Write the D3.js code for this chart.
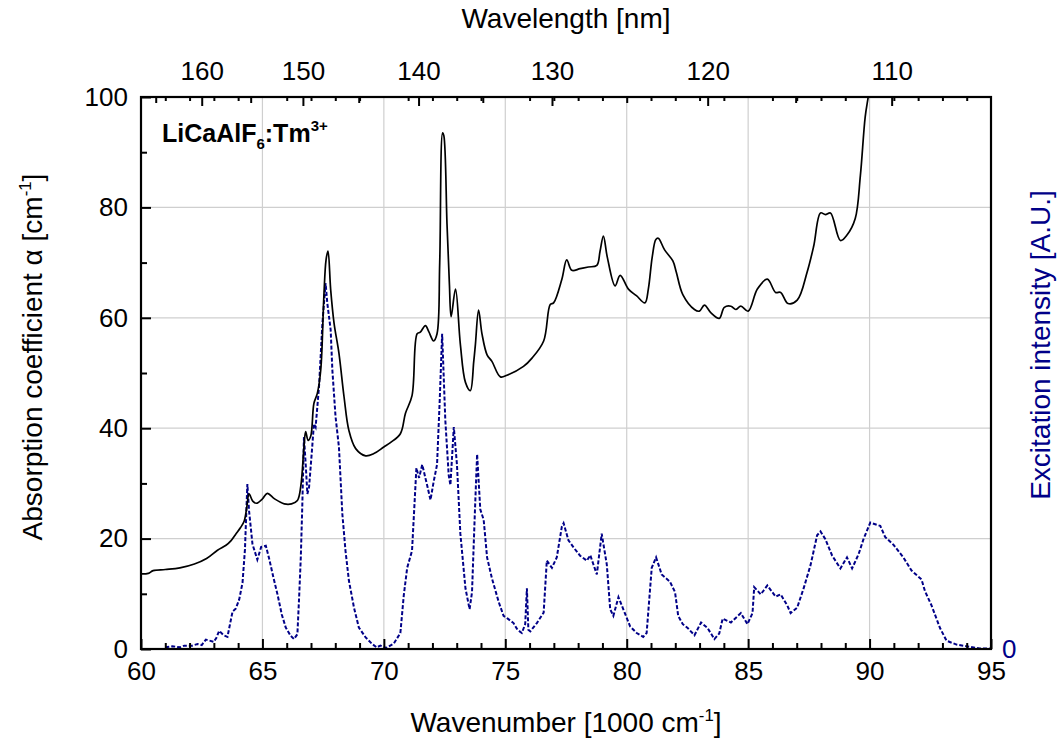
<!DOCTYPE html>
<html>
<head>
<meta charset="utf-8">
<script src="https://cdn.jsdelivr.net/npm/d3@7"></script>
<style>
  body { margin: 0; background: #fff; }
  .grafico-d3-svg text { font-family: "Liberation Sans", Arial, sans-serif; }
</style>
</head>
<body>
<svg class="grafico-d3-svg"></svg>
<script>
// dados: número de onda [1000 cm-1] e valores
const absorcao_wn = [60.0, 60.3, 60.5, 61.0, 61.6, 62.2, 62.7, 63.15, 63.5, 63.7, 63.9, 64.1, 64.25, 64.35, 64.45, 64.6, 64.75, 65.0, 65.2, 65.5, 65.9, 66.2, 66.44, 66.58, 66.71, 66.78, 66.88, 66.99, 67.12, 67.26, 67.4, 67.53, 67.62, 67.7, 67.81, 67.95, 68.15, 68.36, 68.56, 68.84, 69.25, 69.59, 70.0, 70.27, 70.68, 70.89, 71.16, 71.37, 71.5, 71.71, 71.85, 72.05, 72.19, 72.3, 72.42, 72.47, 72.6, 72.7, 72.77, 72.95, 73.15, 73.36, 73.56, 73.7, 73.77, 73.9, 74.04, 74.25, 74.45, 74.8, 75.07, 75.75, 76.1, 76.58, 76.85, 76.99, 77.33, 77.53, 77.74, 78.08, 78.42, 78.77, 78.9, 79.04, 79.2, 79.52, 79.73, 80.07, 80.4, 80.75, 80.89, 81.05, 81.2, 81.3, 81.56, 81.9, 82.04, 82.31, 82.79, 82.99, 83.2, 83.47, 83.81, 84.02, 84.29, 84.49, 84.7, 85.0, 85.38, 85.79, 86.13, 86.34, 86.64, 87.02, 87.43, 87.7, 87.98, 88.18, 88.39, 88.8, 89.07, 89.41, 89.62, 89.82, 89.96, 90.05];
const absorcao_val = [13.6, 13.7, 14.2, 14.4, 14.7, 15.4, 16.4, 17.9, 18.8, 19.6, 20.8, 22.0, 23.2, 25.5, 28.1, 26.8, 26.4, 27.2, 28.2, 27.2, 26.3, 26.3, 26.9, 29.5, 36.6, 39.4, 37.8, 38.6, 44.5, 46.3, 50.5, 63.9, 70.5, 72.1, 65.1, 59.0, 53.6, 45.7, 39.6, 36.3, 35.0, 35.4, 36.6, 37.4, 39.0, 42.7, 45.9, 57.1, 57.4, 58.6, 57.5, 55.8, 57.1, 70.0, 93.5, 93.0, 77.0, 66.0, 60.2, 65.2, 55.2, 48.3, 46.8, 52.0, 55.2, 61.4, 57.1, 53.3, 52.1, 49.3, 49.6, 51.2, 52.7, 55.8, 62.4, 62.7, 67.0, 70.5, 68.6, 68.9, 69.2, 69.5, 72.0, 74.8, 71.0, 65.8, 67.7, 65.2, 64.0, 62.7, 65.2, 71.0, 74.2, 74.4, 72.3, 70.3, 68.3, 64.2, 61.5, 61.2, 62.3, 60.9, 59.9, 61.9, 62.1, 61.5, 62.1, 61.2, 65.2, 67.0, 64.6, 64.6, 62.6, 63.2, 68.3, 73.0, 79.0, 78.7, 79.0, 74.0, 75.0, 78.0, 85.7, 96.4, 100.5, 104];

const excitacao_wn = [61.0, 61.3, 61.6, 61.78, 62.1, 62.33, 62.5, 62.67, 63.0, 63.1, 63.22, 63.4, 63.56, 63.77, 63.9, 64.04, 64.18, 64.28, 64.38, 64.45, 64.59, 64.79, 64.95, 65.14, 65.27, 65.45, 65.62, 65.8, 65.96, 66.16, 66.3, 66.44, 66.51, 66.58, 66.64, 66.71, 66.78, 66.85, 66.92, 67.05, 67.12, 67.19, 67.33, 67.47, 67.6, 67.67, 67.81, 67.88, 68.01, 68.15, 68.29, 68.42, 68.56, 68.77, 68.97, 69.25, 69.52, 69.7, 69.86, 70.1, 70.41, 70.68, 70.82, 70.96, 71.16, 71.34, 71.45, 71.58, 71.78, 71.92, 72.05, 72.19, 72.3, 72.4, 72.53, 72.67, 72.74, 72.88, 73.01, 73.15, 73.36, 73.53, 73.63, 73.75, 73.84, 73.97, 74.11, 74.25, 74.45, 74.73, 74.93, 75.1, 75.34, 75.5, 75.68, 75.82, 75.89, 75.95, 76.03, 76.3, 76.58, 76.71, 76.92, 77.12, 77.33, 77.4, 77.6, 77.81, 78.08, 78.36, 78.5, 78.63, 78.77, 78.97, 79.18, 79.32, 79.45, 79.66, 79.86, 80.14, 80.41, 80.68, 80.82, 81.03, 81.21, 81.44, 81.78, 81.99, 82.12, 82.31, 82.51, 82.79, 83.06, 83.33, 83.61, 83.81, 83.95, 84.29, 84.7, 84.97, 85.18, 85.25, 85.52, 85.79, 86.13, 86.34, 86.61, 86.75, 87.02, 87.3, 87.57, 87.84, 87.98, 88.18, 88.46, 88.8, 89.07, 89.28, 89.55, 89.75, 90.03, 90.44, 90.64, 90.98, 91.39, 91.73, 92.14, 92.28, 92.55, 92.9, 93.17, 93.58, 93.99, 94.54, 94.95];
const excitacao_val = [0.3, 0.5, 0.3, 0.6, 0.6, 0.9, 0.7, 1.7, 1.3, 2.0, 3.3, 2.5, 2.2, 6.8, 7.3, 8.9, 12.0, 18.0, 29.9, 25.0, 19.0, 16.2, 18.5, 18.7, 16.5, 13.0, 9.9, 6.2, 3.9, 2.4, 1.8, 2.7, 9.3, 16.6, 25.7, 38.4, 33.6, 28.1, 29.3, 36.6, 40.8, 40.2, 47.5, 59.0, 66.3, 62.7, 57.8, 50.5, 42.1, 36.6, 24.5, 17.8, 12.4, 7.5, 3.9, 2.1, 0.9, 0.3, 0.6, 0.2, 1.0, 2.9, 9.7, 14.7, 17.8, 32.8, 31.0, 33.4, 29.7, 27.0, 30.3, 33.4, 45.0, 57.1, 41.5, 31.5, 29.7, 40.2, 33.4, 20.9, 11.0, 7.2, 10.3, 25.0, 35.3, 25.3, 23.4, 16.6, 12.8, 8.5, 6.0, 5.5, 4.7, 3.5, 2.9, 4.5, 11.0, 3.5, 3.2, 4.7, 6.6, 16.0, 14.7, 16.6, 22.2, 22.8, 19.7, 18.4, 16.9, 16.0, 17.0, 15.3, 13.5, 20.9, 15.3, 7.2, 6.0, 9.4, 7.2, 4.1, 2.9, 2.2, 2.9, 14.7, 16.6, 13.5, 12.2, 10.3, 6.0, 4.5, 3.8, 2.5, 4.8, 3.8, 1.8, 2.8, 5.5, 4.8, 6.5, 4.5, 6.5, 11.2, 9.9, 11.5, 9.5, 9.9, 7.9, 6.5, 7.5, 11.2, 15.2, 20.6, 21.3, 19.9, 16.9, 14.6, 16.6, 14.6, 17.2, 19.9, 22.9, 22.3, 20.3, 18.9, 16.6, 14.2, 12.6, 10.5, 7.9, 3.8, 1.5, 0.8, 0.5, 0.1, 0.1];

// ticks
const ticks_wn        = [60, 65, 70, 75, 80, 85, 90, 95];
const ticks_wn_minor  = d3.range(61, 95, 1).filter(d => d % 5 != 0);
const ticks_alpha     = [0, 20, 40, 60, 80, 100];
const ticks_alpha_min = [10, 30, 50, 70, 90];
const ticks_lambda    = [160, 150, 140, 130, 120, 110];
const ticks_lambda_mi = [165, 155, 145, 135, 125, 115];

const W = 1058, H = 745;
const ESQ = 141, DIR = 991, TOPO = 97, BASE = 649;
const AZUL = "#000088";
const FONTE = 26;       // números dos eixos
const FONTE_TIT = 28;   // títulos dos eixos

const $svg = d3.select(".grafico-d3-svg")
    .attr("width", W)
    .attr("height", H);

const escala_x = d3.scaleLinear().domain([60, 95]).range([ESQ, DIR]);
const escala_y = d3.scaleLinear().domain([0, 100]).range([BASE, TOPO]);
const escala_y2 = d3.scaleLinear().domain([0, 100]).range([BASE, TOPO]);

// nm -> 1000 cm-1
const lambda_para_wn = l => 1e4 / l;

// grade
$svg.append("g")
    .selectAll("line")
    .data([65, 70, 75, 80, 85, 90])
    .join("line")
    .attr("x1", d => escala_x(d)).attr("x2", d => escala_x(d))
    .attr("y1", TOPO).attr("y2", BASE)
    .attr("stroke", "#cfcfcf").attr("stroke-width", 1.2);

$svg.append("g")
    .selectAll("line")
    .data([20, 40, 60, 80])
    .join("line")
    .attr("y1", d => escala_y(d)).attr("y2", d => escala_y(d))
    .attr("x1", ESQ).attr("x2", DIR)
    .attr("stroke", "#cfcfcf").attr("stroke-width", 1.2);

// recorte
$svg.append("clipPath").attr("id", "recorte")
    .append("rect")
    .attr("x", ESQ).attr("y", TOPO)
    .attr("width", DIR - ESQ).attr("height", BASE - TOPO);

const dados_abs = absorcao_wn.map((d, i) => ({ wn: d, v: absorcao_val[i] }));
const dados_exc = excitacao_wn.map((d, i) => ({ wn: d, v: excitacao_val[i] }));

const linha_abs = d3.line()
    .x(d => escala_x(d.wn))
    .y(d => escala_y(d.v))
    .curve(d3.curveCatmullRom.alpha(0.5));

const linha_exc = d3.line()
    .x(d => escala_x(d.wn))
    .y(d => escala_y2(d.v));

$svg.append("path")
    .datum(dados_exc)
    .attr("clip-path", "url(#recorte)")
    .attr("d", linha_exc)
    .attr("fill", "none")
    .attr("stroke", AZUL)
    .attr("stroke-width", 2)
    .attr("stroke-dasharray", "4,2");

$svg.append("path")
    .datum(dados_abs)
    .attr("clip-path", "url(#recorte)")
    .attr("d", linha_abs)
    .attr("fill", "none")
    .attr("stroke", "#000")
    .attr("stroke-width", 1.7);

// eixos
const estilo_eixo = function(g) {
    g.select(".domain").remove();
    g.selectAll(".tick line").attr("stroke", "#000").attr("stroke-width", 2);
    g.selectAll("text").attr("font-size", FONTE).attr("fill", "#000");
}

$svg.append("g")
    .attr("transform", `translate(0,${BASE})`)
    .call(d3.axisBottom(escala_x).tickValues(ticks_wn).tickSize(-10).tickPadding(13))
    .call(estilo_eixo);

$svg.append("g")
    .attr("transform", `translate(0,${BASE})`)
    .call(d3.axisBottom(escala_x).tickValues(ticks_wn_minor).tickSize(-6).tickFormat(""))
    .call(estilo_eixo);

// espelho em cima
$svg.append("g")
    .attr("transform", `translate(0,${TOPO})`)
    .call(d3.axisTop(escala_x).tickValues(ticks_wn_minor).tickSize(-4).tickFormat(""))
    .call(estilo_eixo);

$svg.append("g")
    .attr("transform", `translate(${ESQ},0)`)
    .call(d3.axisLeft(escala_y).tickValues(ticks_alpha).tickSize(-10).tickPadding(13))
    .call(estilo_eixo);

$svg.append("g")
    .attr("transform", `translate(${ESQ},0)`)
    .call(d3.axisLeft(escala_y).tickValues(ticks_alpha_min).tickSize(-6).tickFormat(""))
    .call(estilo_eixo);

// eixo superior: comprimento de onda
const escala_topo = d3.scaleLinear().domain([60, 95]).range([ESQ, DIR]);
$svg.append("g")
    .attr("transform", `translate(0,${TOPO})`)
    .call(d3.axisTop(escala_topo)
        .tickValues(ticks_lambda.map(lambda_para_wn))
        .tickFormat((d, i) => ticks_lambda[i])
        .tickSize(-9).tickPadding(17))
    .call(estilo_eixo);

$svg.append("g")
    .attr("transform", `translate(0,${TOPO})`)
    .call(d3.axisTop(escala_topo)
        .tickValues(ticks_lambda_mi.map(lambda_para_wn))
        .tickSize(-6).tickFormat(""))
    .call(estilo_eixo);

// moldura
$svg.append("rect")
    .attr("x", ESQ).attr("y", TOPO)
    .attr("width", DIR - ESQ).attr("height", BASE - TOPO)
    .attr("fill", "none").attr("stroke", "#000").attr("stroke-width", 2.2);

// eixo direito: só o zero
$svg.append("text")
    .attr("x", DIR + 11).attr("y", escala_y2(0))
    .attr("dy", "0.36em")
    .attr("font-size", FONTE)
    .attr("fill", AZUL)
    .text("0");

// títulos
const t_baixo = $svg.append("text")
    .attr("x", (ESQ + DIR) / 2).attr("y", 732)
    .attr("text-anchor", "middle")
    .attr("font-size", FONTE_TIT);
t_baixo.append("tspan").text("Wavenumber [1000 cm");
t_baixo.append("tspan").attr("font-size", FONTE_TIT * 0.6).attr("dy", -11).text("-1");
t_baixo.append("tspan").attr("dy", 11).text("]");

$svg.append("text")
    .attr("x", (ESQ + DIR) / 2).attr("y", 28)
    .attr("text-anchor", "middle")
    .attr("font-size", FONTE_TIT)
    .text("Wavelength [nm]");

const t_esq = $svg.append("text")
    .attr("transform", "translate(42,357) rotate(-90)")
    .attr("text-anchor", "middle")
    .attr("font-size", FONTE_TIT);
t_esq.append("tspan").text("Absorption coefficient \u03B1 [cm");
t_esq.append("tspan").attr("font-size", FONTE_TIT * 0.6).attr("dy", -11).text("-1");
t_esq.append("tspan").attr("dy", 11).text("]");

$svg.append("text")
    .attr("transform", "translate(1050,345) rotate(-90)")
    .attr("text-anchor", "middle")
    .attr("font-size", FONTE_TIT)
    .attr("fill", AZUL)
    .text("Excitation intensity [A.U.]");

// rótulo da amostra
const rotulo = $svg.append("text")
    .attr("x", 162).attr("y", 142)
    .attr("font-size", 25)
    .attr("font-weight", "bold");
rotulo.append("tspan").text("LiCaAlF");
rotulo.append("tspan").attr("font-size", 15).attr("dy", 7).text("6");
rotulo.append("tspan").attr("dy", -7).text(":Tm");
rotulo.append("tspan").attr("font-size", 15).attr("dy", -11).text("3+");
</script>
</body>
</html>
